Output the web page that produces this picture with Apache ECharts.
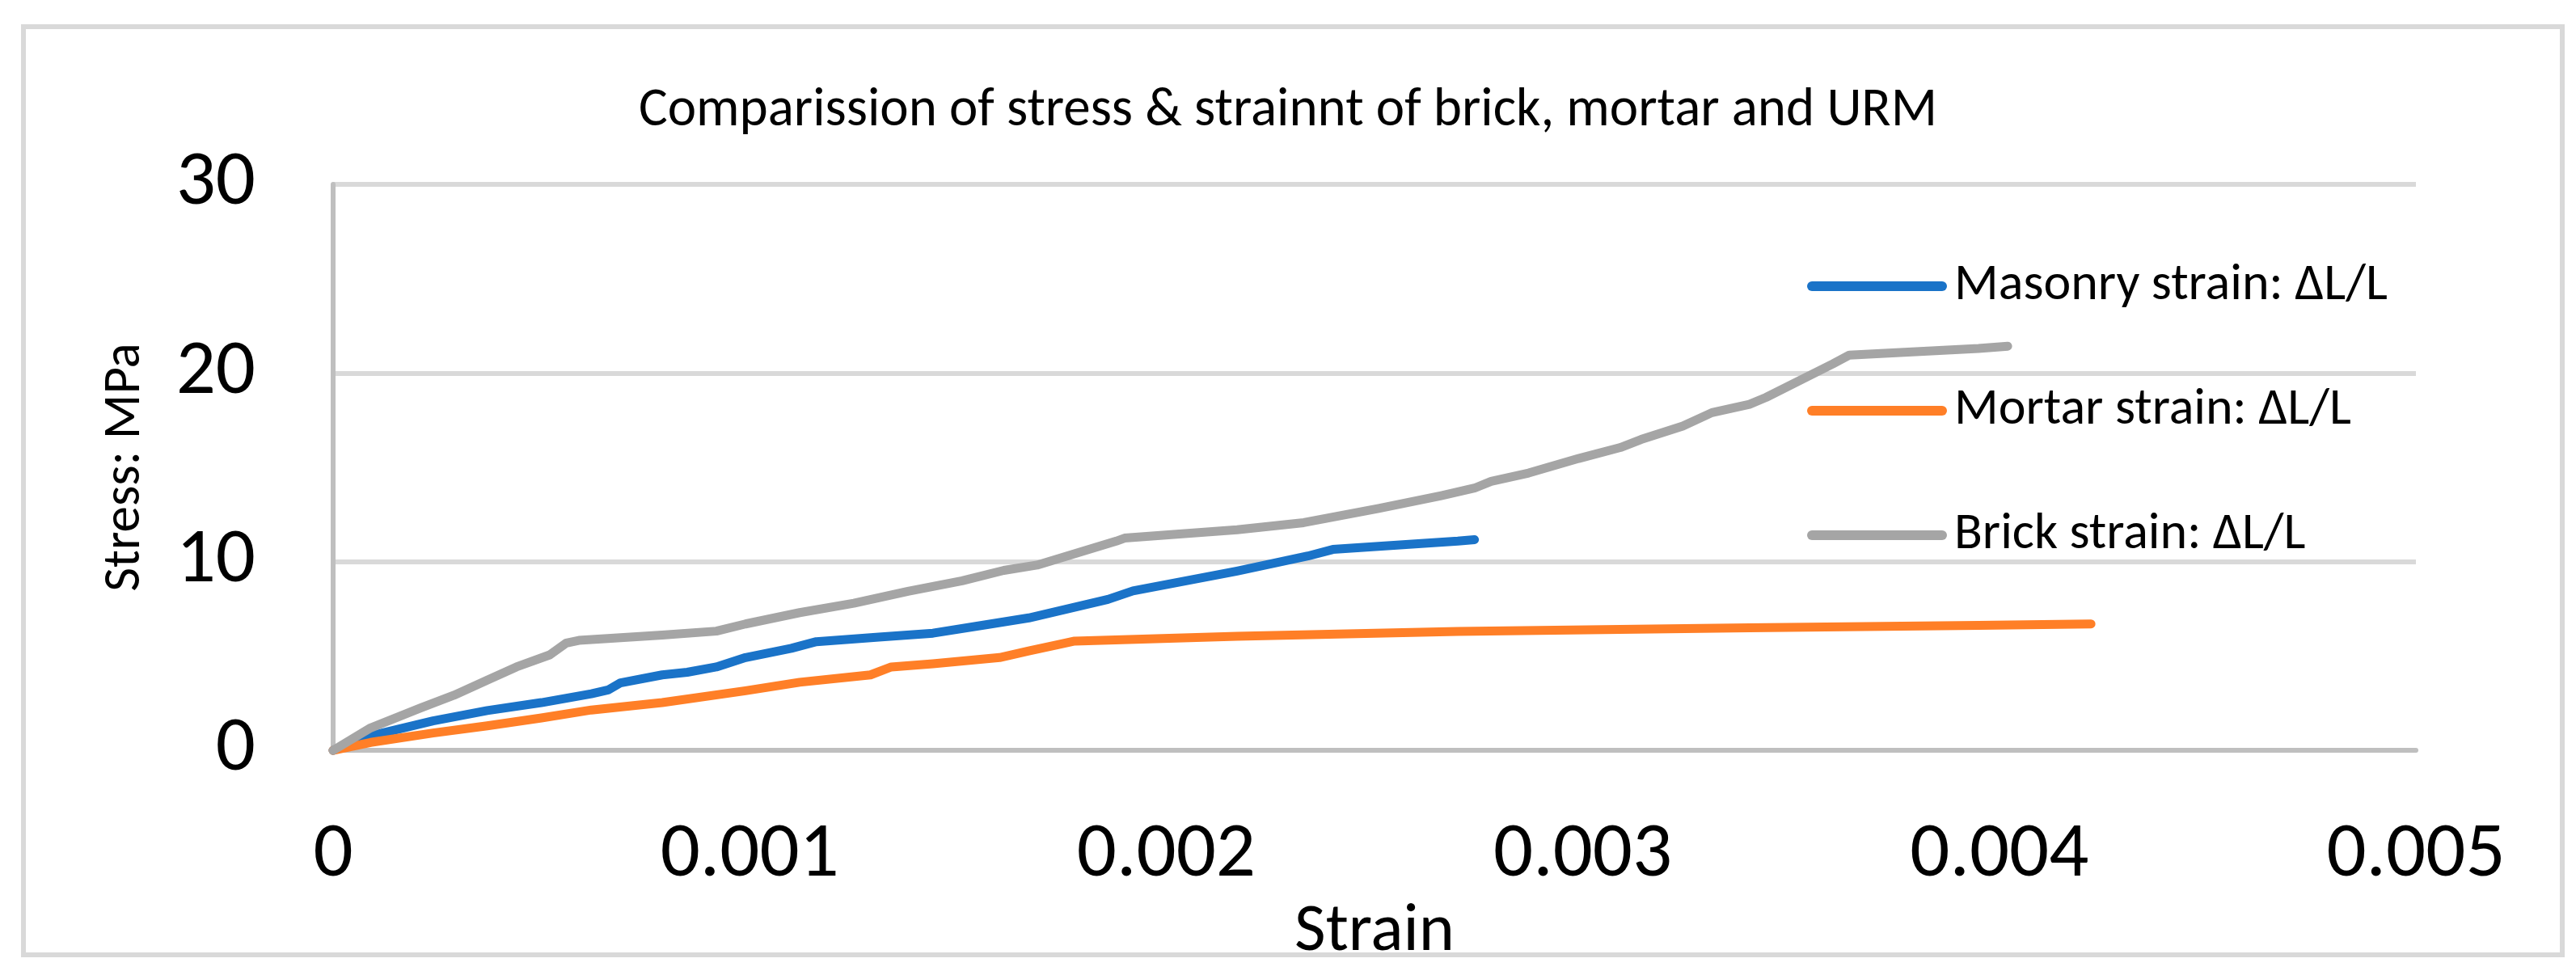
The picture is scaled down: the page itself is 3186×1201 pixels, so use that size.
<!DOCTYPE html>
<html>
<head>
<meta charset="utf-8">
<script src="https://cdn.jsdelivr.net/npm/echarts@6/dist/echarts.min.js"></script>
<style>
html,body{margin:0;padding:0;background:#fff;}
#frame{position:absolute;left:26px;top:30px;width:3134px;height:1142px;border:6px solid #d9d9d9;box-sizing:content-box;}
#chart{position:absolute;left:0;top:0;width:3186px;height:1201px;}
</style>
</head>
<body>
<div id="frame"></div>
<div id="chart"></div>
<script>
const titleText = 'Comparission of stress & strainnt of brick, mortar and URM';
const xAxisName = 'Strain';
const yAxisName = 'Stress: MPa';
const seriesNames = ['Masonry strain: \u0394L/L', 'Mortar strain: \u0394L/L', 'Brick strain: \u0394L/L'];
const seriesColors = ['#1a73c8', '#ff7f27', '#a5a5a5'];

const masonryStrain = [0, 0.00009, 0.00024, 0.00037, 0.0005, 0.00062, 0.00066, 0.00069, 0.00079, 0.00085, 0.00092, 0.00099, 0.0011, 0.00116, 0.00131, 0.00144, 0.00157, 0.00167, 0.00186, 0.00192, 0.00217, 0.00234, 0.0024, 0.0027, 0.00274];
const masonryStress = [0, 0.77, 1.56, 2.11, 2.53, 3.0, 3.2, 3.58, 4.0, 4.14, 4.42, 4.92, 5.41, 5.76, 6.0, 6.21, 6.67, 7.02, 8.0, 8.45, 9.5, 10.3, 10.65, 11.09, 11.17];

const mortarStrain = [0, 0.00009, 0.00024, 0.00037, 0.0005, 0.00062, 0.00079, 0.00099, 0.00112, 0.00129, 0.00134, 0.00144, 0.0016, 0.00167, 0.00174, 0.00178, 0.00217, 0.0027, 0.0034, 0.00395, 0.00422];
const mortarStress = [0, 0.42, 0.92, 1.3, 1.72, 2.14, 2.53, 3.16, 3.61, 4.0, 4.42, 4.59, 4.92, 5.27, 5.6, 5.79, 6.05, 6.3, 6.5, 6.62, 6.7];

const brickStrain = [0, 0.00009, 0.00021, 0.00029, 0.00037, 0.00044, 0.00052, 0.00056, 0.00059, 0.00079, 0.00092, 0.00099, 0.00112, 0.00125, 0.00138, 0.00151, 0.00161, 0.00169, 0.00188, 0.0019, 0.00217, 0.00233, 0.00251, 0.00266, 0.00274, 0.00278, 0.00287, 0.00299, 0.00309, 0.00314, 0.00324, 0.00331, 0.0034, 0.00344, 0.0036, 0.00364, 0.00395, 0.00402];
const brickStress = [0, 1.19, 2.25, 2.92, 3.72, 4.42, 5.06, 5.69, 5.83, 6.11, 6.32, 6.7, 7.3, 7.8, 8.43, 8.99, 9.54, 9.82, 11.09, 11.25, 11.69, 12.07, 12.82, 13.5, 13.9, 14.26, 14.7, 15.47, 16.05, 16.48, 17.19, 17.9, 18.34, 18.71, 20.48, 20.95, 21.3, 21.42];

const xTicks = [0, 0.001, 0.002, 0.003, 0.004, 0.005];
const yTicks = [0, 10, 20, 30];

const FONT = 'Carlito, Lato, sans-serif';
const pair = (xs, ys) => xs.map((x, i) => [x, ys[i]]);
const capsule = 'path://M6,0 L167,0 A6,6 0 0 1 167,12 L6,12 A6,6 0 0 1 6,0 Z';

const chart = echarts.init(document.getElementById('chart'), null, {renderer: 'canvas'});
const mkSeries = (name, data, color) => ({
  name, type: 'line', data, showSymbol: false, symbol: 'none',
  smooth: false, clip: false,
  lineStyle: {color, width: 11, cap: 'round', join: 'round'},
  itemStyle: {color}
});

chart.setOption({
  backgroundColor: 'transparent',
  animation: false,
  title: {
    text: titleText, left: 'center', top: 100,
    textStyle: {fontFamily: FONT, fontSize: 67, fontWeight: 'normal', color: '#000'}
  },
  legend: {
    orient: 'vertical', left: 2230, top: 317,
    itemWidth: 173, itemHeight: 12, itemGap: 90,
    icon: capsule,
    data: seriesNames,
    textStyle: {fontFamily: FONT, fontSize: 64, lineHeight: 64, color: '#000', padding: [0, 0, 0, 4]}
  },
  grid: {left: 412, top: 228, width: 2576, height: 712, containLabel: false},
  xAxis: {
    type: 'value', min: 0, max: 0.005, interval: 0.001,
    name: xAxisName, nameLocation: 'middle', nameGap: 112,
    nameTextStyle: {fontFamily: FONT, fontSize: 84, color: '#000'},
    axisLine: {show: true, lineStyle: {color: '#bfbfbf', width: 6}},
    axisTick: {show: false},
    splitLine: {show: false},
    axisLabel: {
      margin: 82, fontFamily: FONT, fontSize: 97, color: '#000',
      formatter: v => { const t = xTicks.find(k => Math.abs(k - v) < 1e-9); return t === undefined ? '' : String(t); }
    }
  },
  yAxis: {
    type: 'value', min: 0, max: 30, interval: 10,
    name: yAxisName, nameLocation: 'middle', nameGap: 224, nameRotate: 90,
    nameTextStyle: {fontFamily: FONT, fontSize: 65, color: '#000'},
    axisLine: {show: true, lineStyle: {color: '#bfbfbf', width: 6}},
    axisTick: {show: false},
    splitLine: {show: true, lineStyle: {color: '#d9d9d9', width: 6}},
    axisLabel: {
      margin: 96, fontFamily: FONT, fontSize: 97, color: '#000',
      formatter: v => { const t = yTicks.find(k => Math.abs(k - v) < 1e-9); return t === undefined ? '' : String(t); }
    }
  },
  series: [
    mkSeries(seriesNames[0], pair(masonryStrain, masonryStress), seriesColors[0]),
    mkSeries(seriesNames[1], pair(mortarStrain, mortarStress), seriesColors[1]),
    mkSeries(seriesNames[2], pair(brickStrain, brickStress), seriesColors[2])
  ]
});
</script>
</body>
</html>
